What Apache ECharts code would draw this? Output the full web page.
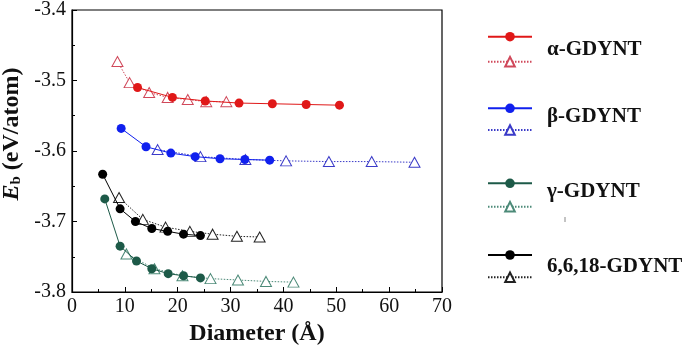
<!DOCTYPE html>
<html>
<head>
<meta charset="utf-8">
<script src="https://cdn.jsdelivr.net/npm/echarts@6/dist/echarts.min.js"></script>
<style>
  html, body { margin: 0; padding: 0; background: #fff; }
  #chart { width: 689px; height: 350px; }
</style>
</head>
<body>
<div id="chart"></div>
<script>
// Datos: diámetro (Å) y energía de enlace (eV/atom)
const alphaD = [12.4, 19.0, 25.2, 31.6, 37.9, 44.3, 50.6];
const alphaE = [-3.510, -3.524, -3.529, -3.532, -3.533, -3.534, -3.535];
const alphaTriD = [8.6, 10.9, 14.6, 18.1, 21.9, 25.4, 29.2];
const alphaTriE = [-3.473, -3.503, -3.517, -3.524, -3.527, -3.530, -3.530];

const betaD = [9.3, 14.0, 18.7, 23.3, 28.0, 32.7, 37.4];
const betaE = [-3.568, -3.594, -3.603, -3.608, -3.611, -3.612, -3.613];
const betaTriD = [16.2, 24.3, 32.8, 40.5, 48.6, 56.7, 64.8];
const betaTriE = [-3.598, -3.608, -3.612, -3.614, -3.615, -3.615, -3.616];

const gammaD = [6.2, 9.1, 12.2, 15.1, 18.2, 21.1, 24.3];
const gammaE = [-3.668, -3.735, -3.756, -3.767, -3.774, -3.777, -3.780];
const gammaTriD = [10.3, 15.6, 20.9, 26.2, 31.4, 36.7, 41.9];
const gammaTriE = [-3.746, -3.767, -3.777, -3.781, -3.783, -3.785, -3.786];

const g618D = [5.8, 9.1, 12.0, 15.1, 18.1, 21.1, 24.3];
const g618E = [-3.633, -3.682, -3.700, -3.710, -3.714, -3.718, -3.720];
const g618TriD = [8.9, 13.4, 17.7, 22.3, 26.6, 31.2, 35.5];
const g618TriE = [-3.666, -3.697, -3.708, -3.714, -3.718, -3.721, -3.722];

const nombres = ["α-GDYNT", "β-GDYNT", "γ-GDYNT", "6,6,18-GDYNT"];
const xTicks = [0, 10, 20, 30, 40, 50, 60, 70];
const yTicks = [-3.8, -3.7, -3.6, -3.5, -3.4];

const FONT = "'Liberation Serif', 'Times New Roman', 'DejaVu Serif', serif";

function pares(xs, ys) {
  return xs.map((x, i) => [x, ys[i]]);
}

// serie con círculos rellenos y línea continua
function serieCirculo(name, xs, ys, color) {
  return {
    name,
    type: "line",
    data: pares(xs, ys),
    symbol: "circle",
    symbolSize: 9,
    lineStyle: { color, width: 1, type: "solid" },
    itemStyle: { color, borderWidth: 0 },
    z: 3,
  };
}

// serie con triángulos vacíos y línea punteada
function serieTriangulo(name, xs, ys, color) {
  return {
    name,
    type: "line",
    data: pares(xs, ys),
    symbol: "triangle",
    symbolSize: [11, 10],
    lineStyle: { color, width: 1, type: [1.5, 1.5] },
    itemStyle: { color: "#fff", borderColor: color, borderWidth: 1 },
    z: 2,
  };
}

const colores = [
  { c: "#e01818", t: "#d0485a" },
  { c: "#1020ee", t: "#3a3ac8" },
  { c: "#1d5a48", t: "#4c8a78" },
  { c: "#000000", t: "#222222" },
];

const series = [
  serieTriangulo(nombres[0] + " t", alphaTriD, alphaTriE, colores[0].t),
  serieCirculo(nombres[0], alphaD, alphaE, colores[0].c),
  serieTriangulo(nombres[1] + " t", betaTriD, betaTriE, colores[1].t),
  serieCirculo(nombres[1], betaD, betaE, colores[1].c),
  serieTriangulo(nombres[2] + " t", gammaTriD, gammaTriE, colores[2].t),
  serieCirculo(nombres[2], gammaD, gammaE, colores[2].c),
  serieTriangulo(nombres[3] + " t", g618TriD, g618TriE, colores[3].t),
  serieCirculo(nombres[3], g618D, g618E, colores[3].c),
];

// filas de la leyenda (posición vertical de línea llena / punteada / texto)
const filasLeyenda = [
  { circ: 36.7, tri: 61.7, txt: 50.7 },
  { circ: 108.3, tri: 130, txt: 118.3 },
  { circ: 183.3, tri: 206.7, txt: 192.7 },
  { circ: 255, tri: 277.3, txt: 268.3 },
];

const leyendas = [];
const textos = [];
filasLeyenda.forEach((f, i) => {
  [[nombres[i], f.circ], [nombres[i] + " t", f.tri]].forEach(([n, y]) => {
    leyendas.push({
      data: [n],
      left: 487,
      top: y - 6,
      padding: 0,
      itemWidth: 44,
      itemHeight: 12,
      formatter: () => "",
      selectedMode: false,
    });
  });
  textos.push({
    type: "text",
    left: 547,
    top: f.txt - 12,
    style: {
      text: nombres[i],
      font: "bold 21px " + FONT,
      fill: "#111",
    },
  });
});

// pequeña marca suelta bajo γ-GDYNT
textos.push({
  type: "line",
  shape: { x1: 565, y1: 217, x2: 565, y2: 222 },
  style: { stroke: "#888", lineWidth: 1 },
});

const chart = echarts.init(document.getElementById("chart"));
chart.setOption({
  animation: false,
  backgroundColor: "#fff",
  textStyle: { fontFamily: FONT },
  grid: {
    left: 72,
    right: 247,
    top: 10,
    bottom: 58,
    outerBoundsMode: "none",
    containLabel: false,
    show: true,
    borderColor: "#000",
    borderWidth: 1.2,
  },
  legend: leyendas,
  graphic: textos,
  xAxis: {
    type: "value",
    min: xTicks[0],
    max: xTicks[xTicks.length - 1],
    interval: 10,
    name: "Diameter (Å)",
    nameLocation: "middle",
    nameGap: 29,
    nameTextStyle: { fontFamily: FONT, fontWeight: "bold", fontSize: 24, color: "#111" },
    axisLine: { lineStyle: { color: "#000", width: 1.2 } },
    axisTick: { inside: true, length: 5, lineStyle: { color: "#000" } },
    minorTick: { show: true, splitNumber: 2, length: 3, lineStyle: { color: "#000" } },
    splitLine: { show: false },
    axisLabel: { fontFamily: FONT, fontSize: 20, color: "#111", margin: 5 },
  },
  yAxis: {
    type: "value",
    min: yTicks[0],
    max: yTicks[yTicks.length - 1],
    interval: 0.1,
    name: "{i|E}{s|b} (eV/atom)",
    nameLocation: "middle",
    nameRotate: 90,
    nameGap: 47,
    nameTextStyle: {
      fontFamily: FONT,
      fontWeight: "bold",
      fontSize: 24,
      color: "#111",
      padding: [0, 0, 0, 34],
      rich: {
        i: { fontFamily: FONT, fontWeight: "bold", fontStyle: "italic", fontSize: 24, color: "#111" },
        s: { fontFamily: FONT, fontWeight: "bold", fontSize: 15, color: "#111", verticalAlign: "bottom", padding: [9, 0, 0, 0] },
      },
    },
    axisLine: { show: true, lineStyle: { color: "#000", width: 1.2 } },
    axisTick: { show: true, inside: true, length: 5, lineStyle: { color: "#000" } },
    minorTick: { show: true, splitNumber: 2, length: 3, lineStyle: { color: "#000" } },
    splitLine: { show: false },
    axisLabel: {
      fontFamily: FONT,
      fontSize: 20,
      color: "#111",
      margin: 6,
      formatter: (v) => v.toFixed(1),
    },
  },
  series,
});
</script>
</body>
</html>
